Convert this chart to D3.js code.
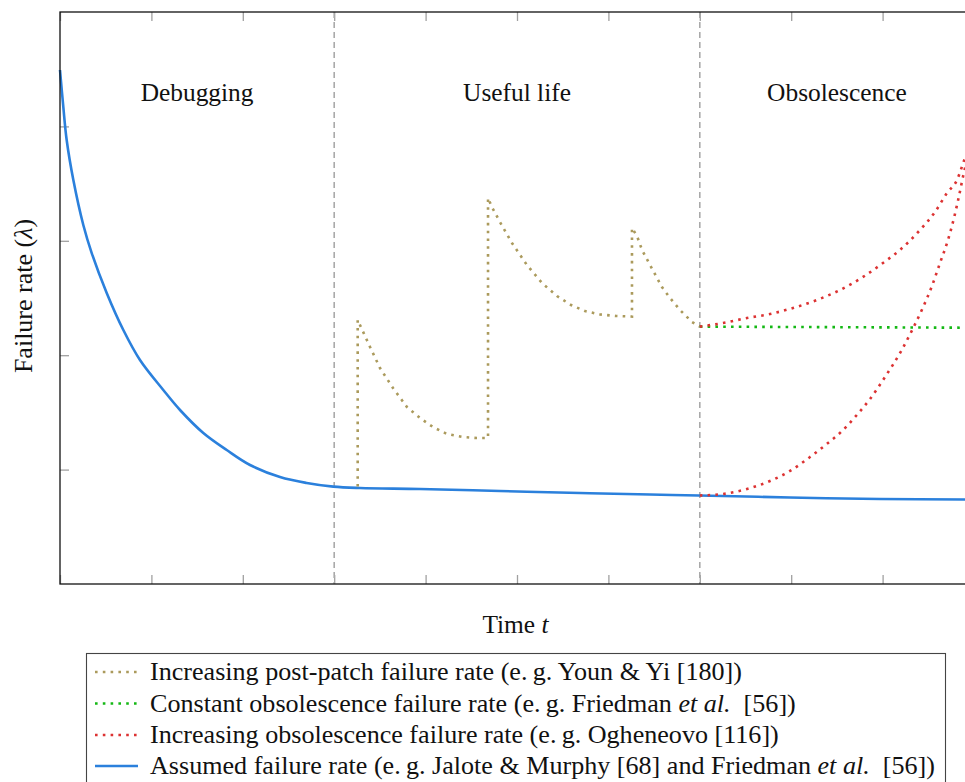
<!DOCTYPE html>
<html><head><meta charset="utf-8">
<script src="https://cdn.jsdelivr.net/npm/d3@7"></script>
<style>html,body{margin:0;padding:0;overflow:hidden;background:#fff}</style>
</head><body>
<svg id="c" width="965" height="782" xmlns="http://www.w3.org/2000/svg"></svg>
<script>
// ---------- data ----------
const xTicks = [0,1,2,3,4,5,6,7,8,9,10];
const yTicks = [1,2,3,4];
const phaseNames = ["Debugging","Useful life","Obsolescence"];
const phaseCenters = [1.5,5,8.5];
const phaseBounds = [3,7];

const blueT = [0,0.036,0.073,0.146,0.255,0.347,0.511,0.693,0.875,1.130,1.313,1.568,1.824,2.079,2.407,2.699,2.990,3.282,3.939,4.814,5.689,6.455,6.991,7.987,8.972,10];
const blueV = [4.493,4.172,3.881,3.531,3.138,2.893,2.544,2.220,1.958,1.696,1.521,1.320,1.171,1.040,0.935,0.883,0.851,0.839,0.830,0.813,0.795,0.782,0.774,0.756,0.743,0.739];

const patchT = [3.257,3.257,3.282,3.392,3.501,3.643,3.796,3.939,4.081,4.234,4.409,4.562,4.683,4.683,4.726,4.814,4.945,5.109,5.274,5.438,5.591,5.744,5.908,6.083,6.258,6.258,6.313,6.368,6.455,6.586,6.674,6.783,6.915,7.0];
const patchV = [0.852,2.308,2.264,2.072,1.888,1.713,1.547,1.451,1.372,1.311,1.285,1.276,1.276,3.374,3.295,3.164,2.981,2.788,2.631,2.517,2.439,2.386,2.356,2.343,2.338,3.112,3.042,2.920,2.789,2.596,2.500,2.395,2.290,2.25];

const constT = [7,10];
const constV = [2.25,2.24];

const incUpT = [7.0,7.254,7.516,7.768,8.020,8.282,8.534,8.786,9.004,9.190,9.409,9.573,9.705,9.814,9.902,10];
const incUpV = [2.25,2.281,2.325,2.360,2.413,2.483,2.570,2.684,2.806,2.920,3.094,3.252,3.418,3.531,3.724,3.881];

const incLowT = [7.0,7.254,7.516,7.768,7.987,8.206,8.403,8.556,8.709,8.862,9.026,9.209,9.329,9.439,9.540,9.628,9.712,9.781,9.836,9.891,10];
const incLowV = [0.774,0.787,0.830,0.900,0.988,1.110,1.233,1.337,1.469,1.617,1.809,2.045,2.229,2.413,2.605,2.806,2.998,3.199,3.392,3.601,3.881];

const legendLabels = [
  [["Increasing post-patch failure rate (e.\u2009g. Youn & Yi [180])", false]],
  [["Constant obsolescence failure rate (e.\u2009g. Friedman ", false],["et al.", true],["\u2002[56])", false]],
  [["Increasing obsolescence failure rate (e.\u2009g. Ogheneovo [116])", false]],
  [["Assumed failure rate (e.\u2009g. Jalote & Murphy [68] and Friedman ", false],["et al.", true],["\u2002[56])", false]]
];
const colors = {patch:"#ab9a5c", constant:"#14b814", inc:"#dc3232", blue:"#2b80dc"};

// ---------- chart ----------
const FONT = "'Liberation Serif', 'DejaVu Serif', serif";
const svg = d3.select("#c");
const x = d3.scaleLinear([0,10],[60,974]);
const y = d3.scaleLinear([0,5],[584,12]);

function styleAxis(a){
  a.select(".domain").remove();
  a.selectAll(".tick line").attr("stroke","#a0a0a0").attr("stroke-width",1.3);
}
const tk = 9;
svg.append("g").attr("transform",`translate(0,${y(0)})`)
  .call(d3.axisBottom(x).tickValues(xTicks).tickSizeInner(-tk).tickSizeOuter(0).tickFormat(""))
  .call(styleAxis);
svg.append("g").attr("transform",`translate(0,${y(5)})`)
  .call(d3.axisTop(x).tickValues(xTicks).tickSizeInner(-tk).tickSizeOuter(0).tickFormat(""))
  .call(styleAxis);
svg.append("g").attr("transform",`translate(${x(0)},0)`)
  .call(d3.axisLeft(y).tickValues(yTicks).tickSizeInner(-tk).tickSizeOuter(0).tickFormat(""))
  .call(styleAxis);
svg.append("g").attr("transform",`translate(${x(10)},0)`)
  .call(d3.axisRight(y).tickValues(yTicks).tickSizeInner(-tk).tickSizeOuter(0).tickFormat(""))
  .call(styleAxis);

// phase separators
svg.append("g").selectAll("line").data(phaseBounds).join("line")
  .attr("x1",d=>x(d)).attr("x2",d=>x(d)).attr("y1",y(5)).attr("y2",y(0))
  .attr("stroke","#aaaaaa").attr("stroke-width",1.6).attr("stroke-dasharray","6 4");

// phase labels
svg.append("g").selectAll("text").data(phaseNames).join("text")
  .attr("x",(d,i)=>x(phaseCenters[i])).attr("y",101)
  .attr("text-anchor","middle").attr("font-family",FONT).attr("font-size",25.4)
  .attr("fill","#111").text(d=>d);

const line = d3.line().x(d=>x(d[0])).y(d=>y(d[1]));
const zip = (a,b)=>a.map((v,i)=>[v,b[i]]);
const plot = svg.append("g");
plot.append("path").attr("d", line.curve(d3.curveCatmullRom.alpha(0.5))(zip(blueT,blueV)))
  .attr("fill","none").attr("stroke",colors.blue).attr("stroke-width",2.6);
line.curve(d3.curveLinear);
const dots = "2.6 5.2";
plot.append("path").attr("d", line(zip(patchT,patchV)))
  .attr("fill","none").attr("stroke",colors.patch).attr("stroke-width",2.6).attr("stroke-dasharray",dots);
plot.append("path").attr("d", line(zip(constT,constV)))
  .attr("fill","none").attr("stroke",colors.constant).attr("stroke-width",2.6).attr("stroke-dasharray",dots);
plot.append("path").attr("d", line.curve(d3.curveMonotoneX)(zip(incUpT,incUpV)))
  .attr("fill","none").attr("stroke",colors.inc).attr("stroke-width",2.6).attr("stroke-dasharray",dots);
plot.append("path").attr("d", line.curve(d3.curveMonotoneX)(zip(incLowT,incLowV)))
  .attr("fill","none").attr("stroke",colors.inc).attr("stroke-width",2.6).attr("stroke-dasharray",dots);

// frame
svg.append("rect").attr("x",x(0)).attr("y",y(5)).attr("width",x(10)-x(0)).attr("height",y(0)-y(5))
  .attr("fill","none").attr("stroke","#111").attr("stroke-width",1.3);

// axis labels
svg.append("text").attr("x",515.5).attr("y",633).attr("text-anchor","middle")
  .attr("font-family",FONT).attr("font-size",25.4).attr("fill","#111")
  .call(t=>{t.append("tspan").text("Time "); t.append("tspan").attr("font-style","italic").text("t");});
svg.append("text").attr("transform",`translate(32,${(y(0)+y(5))/2-2}) rotate(-90)`).attr("text-anchor","middle")
  .attr("font-family",FONT).attr("font-size",26).attr("fill","#111")
  .call(t=>{t.append("tspan").text("Failure rate ("); t.append("tspan").attr("font-style","italic").text("\u03bb"); t.append("tspan").text(")");});

// legend
const lg = svg.append("g");
lg.append("rect").attr("x",86.5).attr("y",653.5).attr("width",859).attr("height",200)
  .attr("fill","#fff").attr("stroke","#444").attr("stroke-width",1.1);
const legendStyles = [
  {c:colors.patch, dash:dots},
  {c:colors.constant, dash:dots},
  {c:colors.inc, dash:dots},
  {c:colors.blue, dash:null}
];
const rowY = [672,703.5,735,766];
legendStyles.forEach((s,i)=>{
  lg.append("line").attr("x1",95).attr("x2",138).attr("y1",rowY[i]).attr("y2",rowY[i])
    .attr("stroke",s.c).attr("stroke-width",2.6).attr("stroke-dasharray",s.dash);
  const t = lg.append("text").attr("x",150).attr("y",rowY[i]+8)
    .attr("font-family",FONT).attr("font-size",26.1).attr("fill","#111");
  legendLabels[i].forEach(p=>t.append("tspan").attr("font-style",p[1]?"italic":null).text(p[0]));
});
</script>
</body></html>
